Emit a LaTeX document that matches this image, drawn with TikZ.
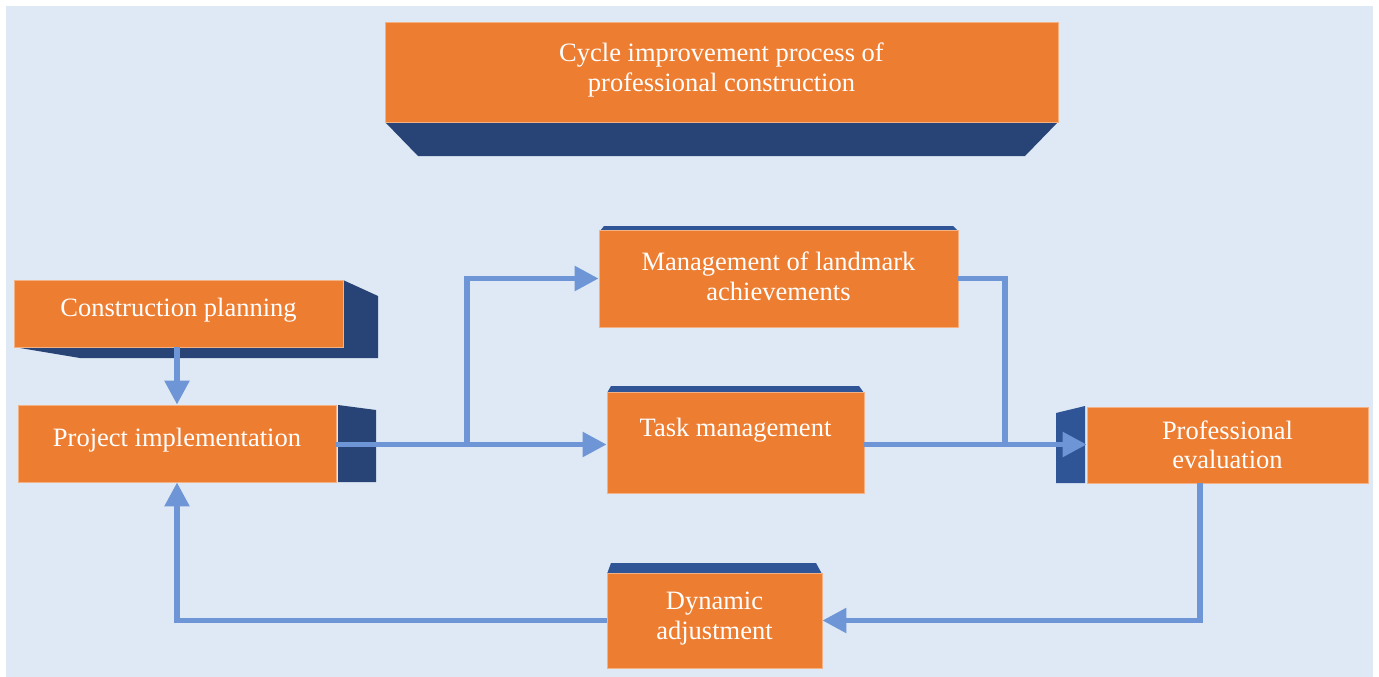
\documentclass[tikz,border=0pt]{standalone}
\usepackage{fontspec}
\setmainfont{Liberation Serif}
\usetikzlibrary{arrows.meta}
\definecolor{bgblue}{HTML}{DEE9F5}
\definecolor{orangebox}{HTML}{ED7D31}
\definecolor{navy}{HTML}{284476}
\definecolor{midblue}{HTML}{2F5597}
\definecolor{arrowblue}{HTML}{6E96D6}
\tikzset{
  box/.style={rectangle, fill=orangebox, draw=orangebox!60!white, line width=0.8pt, text=white, align=center, font=\fontsize{26.5}{29.5}\selectfont, inner sep=0pt},
  boxtext/.style={text=white, align=center, font=\fontsize{26.5}{29.5}\selectfont, inner sep=0pt},
  conn/.style={draw=arrowblue, line width=5.5pt},
  arr/.style={conn, -{Triangle[length=24pt,width=24pt]}},
}
\begin{document}
\begin{tikzpicture}[x=1pt,y=-1pt]
\useasboundingbox (0,0) rectangle (1379,677);
\fill[bgblue] (6,6) rectangle (1373,677);
% 3D pieces
\fill[navy] (385,122) -- (1058,122) -- (1025,156) -- (418,156) -- cycle;
\fill[navy] (14,347) -- (343,347) -- (343,280) -- (378,296) -- (378,358) -- (80,358) -- cycle;
\fill[navy] (338,405) -- (376,410) -- (376,482) -- (338,482) -- cycle;
\fill[midblue] (1056,413) -- (1085,406) -- (1085,483) -- (1056,483) -- cycle;
\fill[midblue] (600,231) -- (604,226) -- (953,226) -- (958,231) -- cycle;
\fill[midblue] (607,393) -- (611,386) -- (859,386) -- (864,393) -- cycle;
\fill[midblue] (607,574) -- (611,563) -- (816,563) -- (822,574) -- cycle;
% boxes
\node[box, minimum width=673pt, minimum height=100pt] (title) at (721.5,72) {};
\node[boxtext] (titletext) at ([yshift=2pt]title.center) {Cycle improvement process of\\professional construction};
\node[box, minimum width=329pt, minimum height=67pt] (cp) at (178.5,313.5) {};
\node[boxtext] (cptext) at ([yshift=3pt]cp.center) {Construction planning};
\node[box, minimum width=318pt, minimum height=77pt] (pi) at (177,443.5) {};
\node[boxtext] (pitext) at ([yshift=3pt]pi.center) {Project implementation};
\node[box, minimum width=359pt, minimum height=97pt] (mla) at (778.5,278.5) {};
\node[boxtext] (mlatext) at ([yshift=2pt]mla.center) {Management of landmark\\achievements};
\node[box, minimum width=257pt, minimum height=101pt] (tm) at (735.5,442.5) {};
\node[boxtext] (tmtext) at ([yshift=12pt]tm.center) {Task management};
\node[box, minimum width=281pt, minimum height=76pt] (pe) at (1227.5,445) {Professional\\evaluation};
\node[box, minimum width=215pt, minimum height=95pt] (da) at (714.5,620.5) {};
\node[boxtext] (datext) at ([yshift=2pt]da.center) {Dynamic\\adjustment};
% connectors
\coordinate (br) at (467,444.5);
\coordinate (jn) at (1005,444.5);
\coordinate (pedown) at (1200,483);
\draw[arr] (pi.north |- cp.south) -- (pi.north);
\draw[arr] (pi.east |- br) -- (tm.west |- br);
\draw[arr] (br) |- (mla.west);
\draw[conn] (mla.east) -| (jn);
\draw[arr] (tm.east |- br) -- (pe.west |- br);
\draw[arr] (pedown) |- (da.east);
\draw[arr] (da.west) -| (pi.south);
\end{tikzpicture}
\end{document}
